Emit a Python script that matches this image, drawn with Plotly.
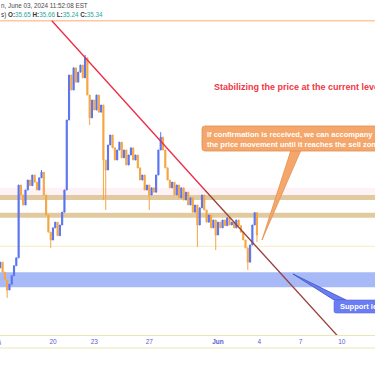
import plotly.graph_objects as go
import pandas as pd

# ---------------- data ----------------
closes = [
    34.88, 34.96, 34.82, 34.71, 34.57, 34.65, 34.77, 34.91, 35.02,
    36.04, 35.90, 35.76, 35.97, 36.11, 36.03, 36.18, 36.08, 35.97, 36.14, 36.22,
    35.90, 35.62, 35.38, 35.27, 35.44, 35.52, 35.33, 35.48, 35.66, 35.97,
    36.95, 37.58, 37.37, 37.68, 37.48, 37.62, 37.72, 37.54, 37.82, 37.30,
    36.98, 37.23, 37.09, 37.30, 37.06, 37.16, 36.39, 36.25, 36.60, 36.74,
    36.56, 36.39, 36.53, 36.64, 36.42, 36.53, 36.32, 36.46, 36.56, 36.39,
    36.46, 36.28, 36.11, 36.18, 35.97, 36.04, 35.90, 36.00, 35.94, 36.18,
    36.53, 36.71, 36.53, 36.28, 36.11, 36.00, 36.08, 35.90, 36.04, 35.86,
    36.00, 35.83, 35.94, 35.76, 35.86, 35.66, 35.76, 35.48, 35.72, 35.90,
    35.69, 35.52, 35.62, 35.44, 35.55, 35.34, 35.52, 35.44, 35.55, 35.47,
    35.58, 35.48, 35.52, 35.44, 35.55, 35.47, 35.38, 35.27, 35.16, 34.96,
    35.20, 35.48, 35.65, 35.34,
]
first_open = 34.80
wick_highs = {19: 36.25, 38: 37.86, 71: 36.78, 112: 35.66, 113: 35.66}
wick_lows = {4: 34.46, 23: 35.16, 40: 36.88, 46: 35.83, 47: 35.69, 66: 35.69,
             87: 35.17, 95: 35.13, 109: 34.85, 113: 35.24}
start_time = "2024-05-16 00:00"
bar_freq = "4h"

# levels
top_line = 38.34
tan_band_1 = (35.83, 35.90)
tan_band_2 = (35.58, 35.65)
pink_zone = (35.90, 36.00)
yellow_line = 35.18
support_band = (34.61, 34.82)

# trend line points
trend_red = [("2024-05-19 22:00", 38.34), ("2024-05-31 01:00", 35.97)]
trend_brown = [("2024-05-31 01:00", 35.97), ("2024-06-09 17:30", 33.92)]

tick_vals = ["2024-05-20", "2024-05-23", "2024-05-27", "2024-06-01",
             "2024-06-04", "2024-06-07", "2024-06-10"]
tick_text = ["20", "23", "27", "<b>Jun</b>", "4", "7", "10"]
x_range = ["2024-05-16 03:30", "2024-06-12 10:00"]
y_range = [33.94, 38.63]

# ---------------- build ----------------
times = pd.date_range(start_time, periods=len(closes), freq=bar_freq)
opens = [first_open] + closes[:-1]
highs = [max(o, c) for o, c in zip(opens, closes)]
lows = [min(o, c) for o, c in zip(opens, closes)]
for i, v in wick_highs.items():
    highs[i] = max(highs[i], v)
for i, v in wick_lows.items():
    lows[i] = min(lows[i], v)

W, H = 375, 366
MB = 31
PH = H - MB


def P(px, py):
    return px / W, 1 - py / PH


def path(points, close=True):
    s = ""
    for k, (px, py) in enumerate(points):
        x, y = P(px, py)
        s += ("M " if k == 0 else " L ") + f"{x:.5f},{y:.5f}"
    return s + (" Z" if close else "")


def rrect(x0, y0, x1, y1, r):
    a = P(x0 + r, y0); b = P(x1 - r, y0); c = P(x1, y0 + r); d = P(x1, y1 - r)
    e = P(x1 - r, y1); f = P(x0 + r, y1); g = P(x0, y1 - r); h = P(x0, y0 + r)
    c1 = P(x1, y0); c2 = P(x1, y1); c3 = P(x0, y1); c4 = P(x0, y0)
    fmt = lambda p: f"{p[0]:.5f},{p[1]:.5f}"
    return (f"M {fmt(a)} L {fmt(b)} Q {fmt(c1)} {fmt(c)} L {fmt(d)} Q {fmt(c2)} {fmt(e)} "
            f"L {fmt(f)} Q {fmt(c3)} {fmt(g)} L {fmt(h)} Q {fmt(c4)} {fmt(a)} Z")


fig = go.Figure()
fig.add_trace(go.Candlestick(
    x=times, open=opens, high=highs, low=lows, close=closes,
    increasing=dict(line=dict(color="#5a73f0", width=1), fillcolor="#5a73f0"),
    decreasing=dict(line=dict(color="#f5a641", width=1), fillcolor="#f5a641"),
    whiskerwidth=0, showlegend=False, hoverinfo="skip",
))

shapes = []
shapes.append(dict(type="rect", xref="paper", yref="y", x0=0, x1=1,
                   y0=pink_zone[0], y1=pink_zone[1], fillcolor="#fdf2f6",
                   line_width=0, layer="below"))
for b in (tan_band_1, tan_band_2):
    shapes.append(dict(type="rect", xref="paper", yref="y", x0=0, x1=1,
                       y0=b[0], y1=b[1], fillcolor="#e2caa0",
                       line_width=0, layer="below"))
shapes.append(dict(type="line", xref="paper", yref="y", x0=0, x1=1,
                   y0=yellow_line, y1=yellow_line,
                   line=dict(color="#f8efcc", width=1.2), layer="below"))
shapes.append(dict(type="rect", xref="paper", yref="y", x0=0, x1=1,
                   y0=support_band[0], y1=support_band[1], fillcolor="#a7baf7",
                   line_width=0, layer="below"))
shapes.append(dict(type="line", xref="paper", yref="y", x0=0, x1=1,
                   y0=top_line, y1=top_line,
                   line=dict(color="#ffc6a2", width=1.5)))
shapes.append(dict(type="line", xref="x", yref="y",
                   x0=trend_red[0][0], y0=trend_red[0][1],
                   x1=trend_red[1][0], y1=trend_red[1][1],
                   line=dict(color="#ee2a45", width=1.3)))
shapes.append(dict(type="line", xref="x", yref="y",
                   x0=trend_brown[0][0], y0=trend_brown[0][1],
                   x1=trend_brown[1][0], y1=trend_brown[1][1],
                   line=dict(color="#9a3e3c", width=1.3)))
# orange callout
shapes.append(dict(type="path", xref="paper", yref="paper",
                   path=path([(291, 150), (301, 150), (262, 240)]),
                   fillcolor="#f4a66b", line=dict(color="#e3914f", width=0.8)))
shapes.append(dict(type="path", xref="paper", yref="paper",
                   path=rrect(202, 126, 392, 151, 3),
                   fillcolor="#f4a66b", line=dict(color="#e3914f", width=0.8)))
# blue callout
shapes.append(dict(type="path", xref="paper", yref="paper",
                   path=path([(293, 274), (334, 300), (346, 300)]),
                   fillcolor="#6b7df2", line=dict(color="#3e4fc4", width=0.8)))
shapes.append(dict(type="path", xref="paper", yref="paper",
                   path=rrect(334, 300, 392, 313, 2),
                   fillcolor="#6b7df2", line=dict(color="#5a6be0", width=0.6)))
shapes.append(dict(type="line", xref="paper", yref="paper", x0=0, x1=1,
                   y0=P(0, 348)[1], y1=P(0, 348)[1],
                   line=dict(color="#e9e6b8", width=1)))

annotations = []
annotations.append(dict(xref="paper", yref="paper", x=P(-1, 0)[0], y=P(0, 5)[1],
                        xanchor="left", yanchor="middle", showarrow=False,
                        text="n, June 03, 2024 11:52:08 EST",
                        font=dict(family="Liberation Sans", size=6.3, color="#4a4a4a")))
val = "<span style='color:#2aa99a'>{}</span>"
annotations.append(dict(xref="paper", yref="paper", x=P(-1, 0)[0], y=P(0, 15)[1],
                        xanchor="left", yanchor="middle", showarrow=False,
                        text="s) <b>O:</b>" + val.format("35.65") + " <b>H:</b>" + val.format("35.66")
                        + " <b>L:</b>" + val.format("35.24") + " <b>C:</b>" + val.format("35.34"),
                        font=dict(family="Liberation Sans", size=6.3, color="#333333")))
annotations.append(dict(xref="paper", yref="paper", x=P(212, 0)[0], y=P(0, 87.3)[1],
                        xanchor="left", yanchor="middle", showarrow=False,
                        text="<b>Stabilizing the price at the current level</b>",
                        font=dict(family="Liberation Sans", size=9, color="#f23645")))
annotations.append(dict(xref="paper", yref="paper", x=P(205, 0)[0], y=P(0, 139.3)[1],
                        xanchor="left", yanchor="middle", showarrow=False, align="left",
                        text="<b>If confirmation is received, we can accompany<br>"
                             "the price movement until it reaches the sell zone</b>",
                        font=dict(family="Liberation Sans", size=7.5, color="#ffffff")))
annotations.append(dict(xref="paper", yref="paper", x=P(338, 0)[0], y=P(0, 306.7)[1],
                        xanchor="left", yanchor="middle", showarrow=False,
                        text="<b>Support level</b>",
                        font=dict(family="Liberation Sans", size=7.5, color="#ffffff")))
annotations.append(dict(xref="paper", yref="paper", x=P(-1.7, 0)[0], y=P(0, 342)[1],
                        xanchor="center", yanchor="middle", showarrow=False,
                        text="16",
                        font=dict(family="Liberation Sans", size=6.5, color="#5b5bd6")))

fig.update_layout(
    width=W, height=H,
    margin=dict(l=0, r=0, t=0, b=MB, pad=0),
    paper_bgcolor="#ffffff", plot_bgcolor="#ffffff",
    shapes=shapes, annotations=annotations,
    xaxis=dict(range=x_range, type="date", showgrid=False, zeroline=False,
               showline=True, linecolor="#e9e6b8", linewidth=1,
               tickvals=tick_vals, ticktext=tick_text, ticks="",
               tickfont=dict(family="Liberation Sans", size=6.5, color="#5b5bd6"),
               rangeslider=dict(visible=False), fixedrange=True),
    yaxis=dict(range=y_range, showgrid=False, zeroline=False,
               showticklabels=False, showline=False, fixedrange=True),
    hovermode=False,
)

fig.write_html("out.html", config={"displayModeBar": False},
               post_script="document.body.style.margin='0px';document.body.style.overflow='hidden';")
